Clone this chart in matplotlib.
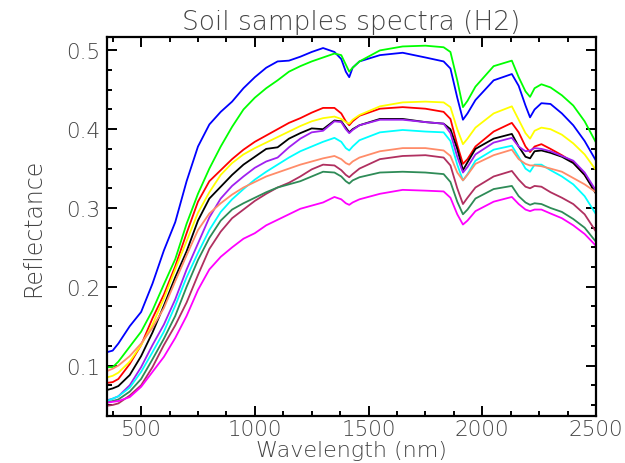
import matplotlib
matplotlib.use("Agg")
import matplotlib.pyplot as plt
from matplotlib.ticker import MultipleLocator, FormatStrFormatter

wavelength = [350, 375, 400, 450, 500, 550, 600, 650, 700, 750, 800, 850, 900, 950, 1000, 1050,
              1100, 1150, 1200, 1250, 1300, 1350, 1380, 1400, 1415, 1430, 1460, 1550,
              1650, 1750, 1830, 1860, 1890, 1915, 1935, 1970, 2050, 2130, 2160, 2190,
              2210, 2230, 2260, 2300, 2350, 2400, 2450, 2500]

blue = [0.117, 0.119, 0.128, 0.150, 0.168, 0.204, 0.246, 0.282, 0.334, 0.378, 0.406, 0.422, 0.435, 0.452, 0.466, 0.478,
        0.486, 0.487, 0.492, 0.498, 0.503, 0.498, 0.489, 0.473, 0.466, 0.478, 0.486, 0.494,
        0.497, 0.491, 0.486, 0.477, 0.440, 0.412, 0.420, 0.437, 0.462, 0.470, 0.455, 0.430,
        0.415, 0.425, 0.433, 0.432, 0.420, 0.405, 0.385, 0.360]
green = [0.098, 0.098, 0.105, 0.124, 0.143, 0.170, 0.203, 0.235, 0.280, 0.318, 0.350, 0.378, 0.403, 0.425, 0.440, 0.452,
         0.462, 0.473, 0.480, 0.486, 0.491, 0.496, 0.494, 0.482, 0.473, 0.478, 0.486, 0.500,
         0.505, 0.506, 0.504, 0.498, 0.462, 0.428, 0.436, 0.454, 0.480, 0.487, 0.466, 0.448,
         0.441, 0.452, 0.457, 0.453, 0.443, 0.430, 0.410, 0.383]
red = [0.078, 0.079, 0.083, 0.102, 0.126, 0.160, 0.190, 0.226, 0.268, 0.308, 0.334, 0.348, 0.362, 0.374, 0.384, 0.392,
       0.400, 0.408, 0.414, 0.421, 0.427, 0.427, 0.420, 0.410, 0.405, 0.410, 0.417, 0.426,
       0.428, 0.426, 0.422, 0.413, 0.380, 0.356, 0.362, 0.378, 0.397, 0.408, 0.396, 0.378,
       0.371, 0.378, 0.381, 0.375, 0.367, 0.358, 0.342, 0.320]
yellow = [0.085, 0.087, 0.091, 0.105, 0.126, 0.152, 0.185, 0.222, 0.258, 0.294, 0.320, 0.342, 0.357, 0.368, 0.376, 0.383,
          0.390, 0.397, 0.404, 0.410, 0.414, 0.416, 0.413, 0.409, 0.407, 0.412, 0.418, 0.429,
          0.434, 0.435, 0.434, 0.428, 0.400, 0.381, 0.388, 0.402, 0.420, 0.429, 0.412, 0.395,
          0.388, 0.398, 0.402, 0.400, 0.393, 0.382, 0.368, 0.348]
black = [0.069, 0.071, 0.074, 0.088, 0.112, 0.142, 0.176, 0.212, 0.245, 0.284, 0.312, 0.327, 0.342, 0.355, 0.365, 0.375,
         0.377, 0.388, 0.395, 0.401, 0.400, 0.411, 0.410, 0.402, 0.396, 0.400, 0.405, 0.413,
         0.413, 0.409, 0.407, 0.400, 0.375, 0.348, 0.358, 0.375, 0.388, 0.394, 0.378, 0.365,
         0.363, 0.372, 0.373, 0.370, 0.365, 0.357, 0.342, 0.318]
purple = [0.056, 0.058, 0.061, 0.075, 0.098, 0.126, 0.152, 0.184, 0.222, 0.255, 0.288, 0.312, 0.328, 0.340, 0.351, 0.359,
          0.364, 0.377, 0.388, 0.396, 0.398, 0.410, 0.409, 0.400, 0.395, 0.399, 0.405, 0.412,
          0.412, 0.409, 0.407, 0.395, 0.365, 0.345, 0.352, 0.368, 0.383, 0.389, 0.378, 0.372,
          0.373, 0.376, 0.375, 0.372, 0.366, 0.360, 0.345, 0.322]
cyan = [0.055, 0.058, 0.061, 0.072, 0.092, 0.117, 0.143, 0.176, 0.212, 0.243, 0.272, 0.295, 0.311, 0.324, 0.336, 0.346,
        0.355, 0.364, 0.372, 0.378, 0.384, 0.389, 0.384, 0.376, 0.373, 0.378, 0.386, 0.396,
        0.399, 0.397, 0.396, 0.385, 0.355, 0.335, 0.343, 0.360, 0.374, 0.379, 0.365, 0.350,
        0.346, 0.355, 0.355, 0.348, 0.340, 0.330, 0.315, 0.292]
coral = [0.093, 0.096, 0.100, 0.112, 0.128, 0.148, 0.173, 0.207, 0.240, 0.272, 0.293, 0.306, 0.317, 0.326, 0.333, 0.340,
         0.345, 0.350, 0.355, 0.359, 0.363, 0.366, 0.362, 0.357, 0.355, 0.359, 0.364, 0.372,
         0.376, 0.376, 0.373, 0.366, 0.345, 0.335, 0.342, 0.356, 0.367, 0.374, 0.362, 0.356,
         0.354, 0.354, 0.353, 0.350, 0.346, 0.338, 0.330, 0.320]
maroon = [0.049, 0.050, 0.052, 0.062, 0.075, 0.098, 0.126, 0.151, 0.180, 0.215, 0.248, 0.270, 0.287, 0.298, 0.309, 0.318,
          0.326, 0.332, 0.340, 0.349, 0.355, 0.354, 0.348, 0.342, 0.339, 0.343, 0.350, 0.362,
          0.366, 0.367, 0.364, 0.354, 0.325, 0.305, 0.313, 0.326, 0.340, 0.347, 0.336, 0.327,
          0.325, 0.328, 0.327, 0.320, 0.313, 0.305, 0.292, 0.270]
seagreen = [0.053, 0.055, 0.057, 0.067, 0.083, 0.108, 0.134, 0.163, 0.200, 0.234, 0.262, 0.284, 0.298, 0.306, 0.313, 0.320,
            0.326, 0.330, 0.334, 0.340, 0.346, 0.345, 0.340, 0.334, 0.331, 0.335, 0.339, 0.345,
            0.346, 0.345, 0.343, 0.333, 0.308, 0.292, 0.298, 0.312, 0.324, 0.328, 0.315, 0.307,
            0.304, 0.306, 0.305, 0.300, 0.295, 0.286, 0.275, 0.257]
magenta = [0.053, 0.054, 0.055, 0.060, 0.073, 0.092, 0.111, 0.135, 0.163, 0.196, 0.222, 0.238, 0.250, 0.261, 0.268, 0.278,
           0.285, 0.292, 0.299, 0.303, 0.307, 0.314, 0.311, 0.306, 0.304, 0.307, 0.311, 0.318,
           0.323, 0.322, 0.321, 0.313, 0.292, 0.279, 0.284, 0.296, 0.308, 0.314, 0.305, 0.298,
           0.296, 0.298, 0.298, 0.293, 0.287, 0.278, 0.267, 0.252]

series = [
    (blue, "#0000FF"), (green, "#00FF00"), (red, "#FF0000"), (yellow, "#FFFF00"),
    (black, "#000000"), (purple, "#A020F0"), (cyan, "#00FFFF"), (coral, "#FF8C69"),
    (maroon, "#B03060"), (seagreen, "#2E8B57"), (magenta, "#FF00FF"),
]

plt.rcParams['font.family'] = ['DejaVu Sans']
fig = plt.figure(figsize=(6.25, 4.64), dpi=100)
ax = fig.add_axes([107/625, 1-417/464, (596-107)/625, (417-38)/464])

for vals, col in series:
    ax.plot(wavelength, vals, color=col, lw=1.3)

ax.set_xlim(350, 2500)
ax.set_ylim(0.036, 0.517)
ax.xaxis.set_major_locator(MultipleLocator(500))
ax.xaxis.set_minor_locator(MultipleLocator(125))
ax.yaxis.set_major_locator(MultipleLocator(0.1))
ax.yaxis.set_minor_locator(MultipleLocator(0.025))
ax.yaxis.set_major_formatter(FormatStrFormatter('%.1f'))

txtcol = '#444444'
ax.tick_params(which='both', direction='in', top=True, right=True, width=1.4, color='black',
               labelsize=15.5, labelcolor=txtcol)
ax.tick_params(which='major', length=7)
ax.tick_params(axis='x', which='major', pad=2.5)
ax.tick_params(axis='y', which='major', pad=5)
ax.tick_params(which='minor', length=3.5)
for lab in ax.get_xticklabels() + ax.get_yticklabels():
    lab.set_fontweight('light')
for s in ax.spines.values():
    s.set_linewidth(1.6)

ax.set_title("Soil samples spectra (H2)", fontsize=19, color=txtcol, pad=6, fontweight='light')
ax.set_xlabel("Wavelength (nm)", fontsize=16, color=txtcol, fontweight='light', va='center')
ax.xaxis.set_label_coords(0.5, (417 - 451) / 379)
ax.set_ylabel("Reflectance", fontsize=17, color=txtcol, labelpad=15, fontweight='light')

fig.savefig("out.png", dpi=100)
